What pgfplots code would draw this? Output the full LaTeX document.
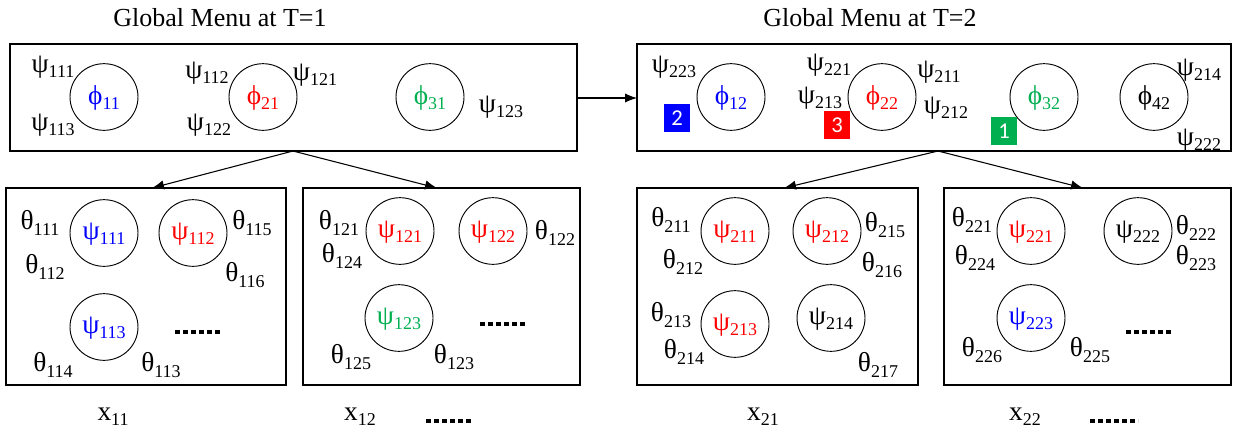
\documentclass[border=0pt]{standalone}
\usepackage{pgfplots}
\pgfplotsset{compat=1.18}
\usetikzlibrary{arrows.meta}
\usepackage{fontspec}
\setmainfont{Liberation Serif}
\newfontfamily\badgefont{Carlito}
\definecolor{cB}{RGB}{0,0,255}
\definecolor{cR}{RGB}{255,0,0}
\definecolor{cG}{RGB}{0,176,80}
\newcommand{\G}[3][black]{\textcolor{#1}{\fontsize{20.5}{20.5}\selectfont #2\raisebox{-4pt}{\fontsize{13.5}{13.5}\selectfont #3}}}
\newcommand{\C}[1]{\draw[line width=0.7pt] (axis cs:#1) ellipse [x radius=25.5pt, y radius=25pt];}
\newcommand{\Dots}[3]{\draw[line width=3pt, dash pattern=on 3.6pt off 2.4pt] (axis cs:#1,#3)--(axis cs:#2,#3);}
\newcommand{\Badge}[4]{\fill[#1] (axis cs:#2-13,#3-14) rectangle (axis cs:#2+13,#3+14);
  \node[text=white] at (axis cs:#2,#3) {\badgefont\fontsize{17}{17}\selectfont #4};}
\begin{document}
\begin{tikzpicture}
\begin{axis}[scale only axis, width=925.5pt, height=324.75pt,
  xmin=0, xmax=1234, ymin=0, ymax=433, y dir=reverse,
  axis line style={draw=none}, ticks=none, clip=true]
\fill[white] (axis cs:0,0) rectangle (axis cs:1234,433);
% titles
\node at (axis cs:220,18) {\fontsize{19.5}{20}\selectfont Global Menu at T=1};
\node at (axis cs:870,18) {\fontsize{19.5}{20}\selectfont Global Menu at T=2};
% top boxes
\draw[line width=0.9pt] (axis cs:10,44) rectangle (axis cs:577,151);
\draw[line width=0.9pt] (axis cs:637,44) rectangle (axis cs:1231,151);
\draw[line width=0.8pt,-{Latex[length=9pt,width=7pt]}] (axis cs:577,98) -- (axis cs:637,98);
% top-left content
\C{104,97} \C{263,97} \C{430,97}
\node at (axis cs:104,98) {\G[cB]{ϕ}{11}};
\node at (axis cs:263,98) {\G[cR]{ϕ}{21}};
\node at (axis cs:430,98) {\G[cG]{ϕ}{31}};
\node at (axis cs:53,67) {\G{ψ}{111}};
\node at (axis cs:53,125) {\G{ψ}{113}};
\node at (axis cs:207,73) {\G{ψ}{112}};
\node at (axis cs:209,125) {\G{ψ}{122}};
\node at (axis cs:315,75) {\G{ψ}{121}};
\node at (axis cs:501,107) {\G{ψ}{123}};
% top-right content
\C{731,97} \C{882,97} \C{1044,97} \C{1154,97}
\node at (axis cs:731,98) {\G[cB]{ϕ}{12}};
\node at (axis cs:882,98) {\G[cR]{ϕ}{22}};
\node at (axis cs:1044,98) {\G[cG]{ϕ}{32}};
\node at (axis cs:1154,98) {\G{ϕ}{42}};
\node at (axis cs:674,67) {\G{ψ}{223}};
\node at (axis cs:829,65) {\G{ψ}{221}};
\node at (axis cs:820,98) {\G{ψ}{213}};
\node at (axis cs:939,72) {\G{ψ}{211}};
\node at (axis cs:946,108) {\G{ψ}{212}};
\node at (axis cs:1199,70) {\G{ψ}{214}};
\node at (axis cs:1199,140) {\G{ψ}{222}};
\Badge{cB}{677}{118}{2}
\Badge{cR}{837}{125}{3}
\Badge{cG}{1004}{131}{1}
% arrows to lower boxes
\draw[line width=0.8pt,-{Latex[length=9pt,width=7pt]}] (axis cs:293,151) -- (axis cs:152,188);
\draw[line width=0.8pt,-{Latex[length=9pt,width=7pt]}] (axis cs:293,151) -- (axis cs:437,188);
\draw[line width=0.8pt,-{Latex[length=9pt,width=7pt]}] (axis cs:938,151) -- (axis cs:784,188);
\draw[line width=0.8pt,-{Latex[length=9pt,width=7pt]}] (axis cs:938,151) -- (axis cs:1083,188);
% lower boxes
\draw[line width=0.9pt] (axis cs:6,188) rectangle (axis cs:286,385);
\draw[line width=0.9pt] (axis cs:303,188) rectangle (axis cs:580,385);
\draw[line width=0.9pt] (axis cs:637,188) rectangle (axis cs:918,385);
\draw[line width=0.9pt] (axis cs:944,188) rectangle (axis cs:1231,385);
% box A
\C{104,233} \C{193,233} \C{104,327}
\node at (axis cs:104,234) {\G[cB]{ψ}{111}};
\node at (axis cs:193,234) {\G[cR]{ψ}{112}};
\node at (axis cs:104,328) {\G[cB]{ψ}{113}};
\node at (axis cs:40,223) {\G{θ}{111}};
\node at (axis cs:45,267) {\G{θ}{112}};
\node at (axis cs:252,223) {\G{θ}{115}};
\node at (axis cs:245,275) {\G{θ}{116}};
\node at (axis cs:53,365) {\G{θ}{114}};
\node at (axis cs:161,365) {\G{θ}{113}};
\Dots{175}{221}{332}
% box B
\C{400,231} \C{493,231} \C{399,318}
\node at (axis cs:400,232) {\G[cR]{ψ}{121}};
\node at (axis cs:493,232) {\G[cR]{ψ}{122}};
\node at (axis cs:399,319) {\G[cG]{ψ}{123}};
\node at (axis cs:339,223) {\G{θ}{121}};
\node at (axis cs:342,256) {\G{θ}{124}};
\node at (axis cs:555,233) {\G{θ}{122}};
\node at (axis cs:351,357) {\G{θ}{125}};
\node at (axis cs:454,357) {\G{θ}{123}};
\Dots{480}{526}{324}
% box C
\C{735,231} \C{827,231} \C{735,324} \C{831,318}
\node at (axis cs:735,232) {\G[cR]{ψ}{211}};
\node at (axis cs:827,232) {\G[cR]{ψ}{212}};
\node at (axis cs:735,325) {\G[cR]{ψ}{213}};
\node at (axis cs:831,319) {\G{ψ}{214}};
\node at (axis cs:671,220) {\G{θ}{211}};
\node at (axis cs:683,262) {\G{θ}{212}};
\node at (axis cs:885,225) {\G{θ}{215}};
\node at (axis cs:882,265) {\G{θ}{216}};
\node at (axis cs:671,315) {\G{θ}{213}};
\node at (axis cs:684,352) {\G{θ}{214}};
\node at (axis cs:878,365) {\G{θ}{217}};
% box D
\C{1031,231} \C{1138,231} \C{1031,318}
\node at (axis cs:1031,232) {\G[cR]{ψ}{221}};
\node at (axis cs:1138,232) {\G{ψ}{222}};
\node at (axis cs:1031,319) {\G[cB]{ψ}{223}};
\node at (axis cs:972,220) {\G{θ}{221}};
\node at (axis cs:975,258) {\G{θ}{224}};
\node at (axis cs:1196,228) {\G{θ}{222}};
\node at (axis cs:1196,258) {\G{θ}{223}};
\node at (axis cs:982,350) {\G{θ}{226}};
\node at (axis cs:1090,350) {\G{θ}{225}};
\Dots{1126}{1172}{332}
% bottom labels
\node[anchor=base] at (axis cs:113,420) {\G{x}{11}};
\node[anchor=base] at (axis cs:360,420) {\G{x}{12}};
\node[anchor=base] at (axis cs:763,420) {\G{x}{21}};
\node[anchor=base] at (axis cs:1025,420) {\G{x}{22}};
\Dots{426}{473}{421}
\Dots{1090}{1138}{421}
\end{axis}
\end{tikzpicture}
\end{document}
